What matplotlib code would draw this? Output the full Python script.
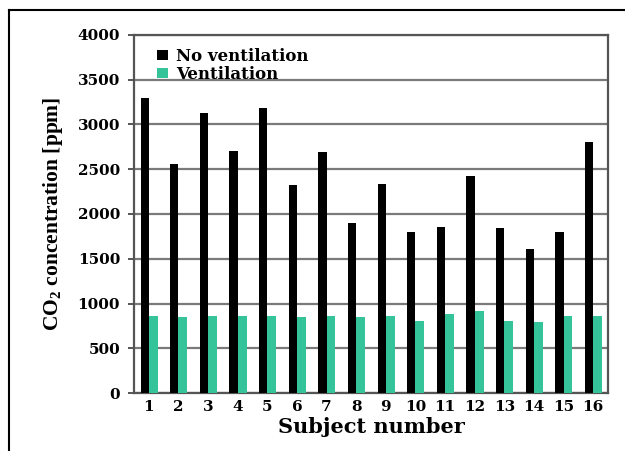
import numpy as np
import matplotlib.pyplot as plt
from matplotlib.lines import Line2D

# values
subjects = list(range(1, 17))
no_vent = [3300, 2560, 3130, 2700, 3180, 2320, 2690, 1900,
           2340, 1800, 1855, 2420, 1840, 1610, 1800, 2810]
vent = [860, 850, 860, 860, 860, 850, 855, 845,
        860, 810, 880, 920, 800, 790, 855, 860]
yticks = [0, 500, 1000, 1500, 2000, 2500, 3000, 3500, 4000]

green = "#35c49a"
serif_wide = "DejaVu Serif"

fig = plt.figure(figsize=(6.25, 4.51), dpi=100)
ax = fig.add_axes([0.2144, 0.1286, 0.7584, 0.7938])

x = np.array(subjects)
ax.bar(x - 0.14, no_vent, width=0.28, color="black", label="No ventilation", zorder=3)
ax.bar(x + 0.15, vent, width=0.30, color=green, label="Ventilation", zorder=3)

ax.set_xlim(0.5, 16.5)
ax.set_ylim(0, 4000)
ax.set_yticks(yticks)
ax.set_xticks(subjects)
ax.set_axisbelow(True)
ax.yaxis.grid(True, color="#7a7a7a", linewidth=1.6)

for s in ax.spines.values():
    s.set_color("#555555")
    s.set_linewidth(1.6)

ax.tick_params(axis="y", length=4, width=1.4, color="#555555", pad=6)
ax.tick_params(axis="x", length=0, pad=5)
for lab in ax.get_yticklabels():
    lab.set_fontfamily(serif_wide)
    lab.set_fontweight("bold")
    lab.set_fontsize(11)
for lab in ax.get_xticklabels():
    lab.set_fontfamily(serif_wide)
    lab.set_fontweight("bold")
    lab.set_fontsize(11)

ax.set_xlabel("Subject number", fontfamily=serif_wide, fontweight="bold",
              fontsize=15, labelpad=2)
ax.set_ylabel("CO$_\\mathregular{2}$ concentration [ppm]", fontfamily="Liberation Serif",
              fontweight="bold", fontsize=15.5, labelpad=9)

leg = ax.legend(loc="upper left", bbox_to_anchor=(0.02, 1.0), frameon=False,
                prop={"family": serif_wide, "weight": "bold", "size": 12},
                handlelength=0.7, handleheight=0.55, handletextpad=0.45,
                labelspacing=0.05, borderpad=0.3)

# outer frame of the picture (top and left edges only visible)
fig.add_artist(Line2D([9 / 625, 9 / 625], [0, 1 - 10 / 451], color="black", lw=1.5))
fig.add_artist(Line2D([9 / 625, 1], [1 - 10 / 451, 1 - 10 / 451], color="black", lw=1.5))

fig.savefig("out.png", dpi=100)
